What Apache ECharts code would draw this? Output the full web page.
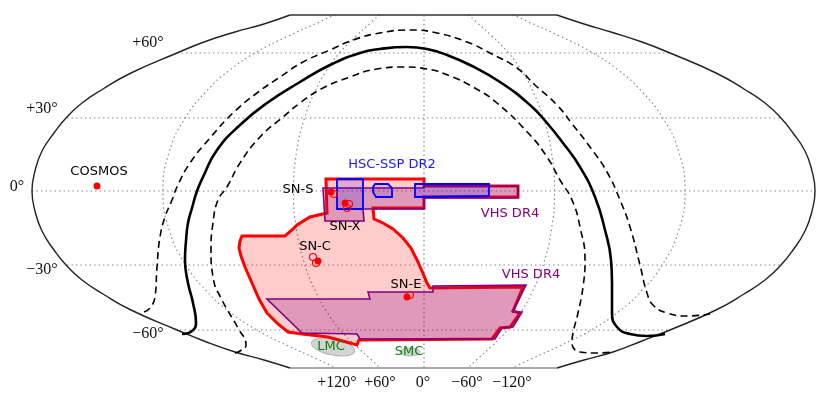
<!DOCTYPE html>
<html>
<head>
<meta charset="utf-8">
<script src="https://cdn.jsdelivr.net/npm/echarts@6/dist/echarts.min.js"></script>
<style>html,body{margin:0;padding:0;background:#fff}#chart{width:831px;height:400px}</style>
</head>
<body>
<div id="chart"></div>
<script>
// all curves are in map units, origin at (lon 0, lat 0)
var edgeLeft = [[-134,176],[-160,167],[-189,159],[-220,149],[-247,138],[-293,118],[-321,102],[-342,88],[-358,73],[-370,58],[-382,40],[-389,20],[-392,0],[-389,-20],[-382,-40],[-370,-59],[-358,-74],[-342,-89],[-321,-103],[-293,-119],[-247,-139],[-220,-150],[-189,-161],[-160,-169],[-134,-177]];
var edgeRight = [[133,176],[160,167],[187,159],[218,149],[246,138],[292,118],[320,102],[341,88],[357,73],[369,58],[381,40],[388,20],[391,0],[388,-20],[381,-40],[369,-59],[357,-74],[341,-89],[320,-103],[292,-119],[246,-139],[218,-150],[189,-161],[160,-169],[133,-177]];
var edgeTop = [[-134,176],[133,176]];
var edgeBottom = [[-134,-177],[133,-177]];

var parallels = [
  [[-392,0],[391,0]],
  [[-357,73],[356,73]],
  [[-357,-74],[356,-74]],
  [[-247,138],[246,138]],
  [[-244,-139],[246,-139]]
];
var meridianLons = [-120,-60,60,120];
var meridianShape = [[1,0],[0.975,40],[0.915,73],[0.833,100],[0.749,120],[0.644,138.5],[0.52,155],[0.41,168],[0.34,176.5]];
var centralMeridian = [[0,176],[0,-177]];

var galacticPlane = [[-242,-143],[-232,-140],[-228,-132],[-231,-112],[-236,-92],[-239,-69],[-238,-50],[-236,-32],[-232,-17],[-227,0],[-221,14],[-207,41],[-184,66],[-157,88],[-124,109],[-94,126],[-64,138],[-44,142],[-17,144],[3,142],[23,136],[46,126],[76,109],[106,86],[123,68],[139,48],[156,24],[171,-6],[181,-39],[187,-69],[188,-92],[188,-122],[193,-136],[206,-143],[223,-145],[241,-143]];
var planeUpper = [[-280,-121],[-274,-117],[-269,-106],[-267,-76],[-264,-46],[-259,-26],[-252,-9],[-247,4],[-234,28],[-214,53],[-191,78],[-167,98],[-144,114],[-121,129],[-94,141],[-71,151],[-44,158],[-14,161],[13,158],[43,149],[66,138],[93,123],[111,106],[133,86],[149,66],[166,44],[183,19],[196,-9],[206,-36],[216,-74],[223,-102],[229,-114],[243,-122],[263,-125],[286,-123]];
var planeLower = [[-189,-162],[-184,-160],[-178,-154],[-186,-137],[-202,-109],[-211,-86],[-213,-59],[-211,-32],[-206,-9],[-197,4],[-184,28],[-164,54],[-141,74],[-124,88],[-101,103],[-74,114],[-47,122],[-21,124],[3,122],[26,115],[49,104],[73,88],[106,56],[123,34],[136,11],[148,-9],[156,-36],[161,-69],[159,-96],[154,-122],[149,-142],[148,-152],[156,-161],[173,-162],[189,-161]];

var mainFootprint = [[-98,12],[0,12],[0,5],[94,5],[94,-6],[0,-6],[0,-17],[-51,-17],[-50,-28],[-41,-32],[-31,-38],[-21,-47],[-13,-57],[-7,-69],[-2,-80],[3,-92],[6,-97],[99,-96],[89,-120],[96,-122],[86,-136],[76,-137],[68,-148],[-65,-149],[-67,-154],[-96,-146],[-122,-143],[-136,-141],[-146,-133],[-157,-122],[-165,-108],[-172,-92],[-179,-76],[-183,-65],[-185,-57],[-184,-50],[-182,-45],[-139,-45],[-132,-39],[-127,-34],[-114,-26],[-97,-22]];
var vhsSouth = [[-157,-108],[-54,-108],[-56,-101],[9,-101],[9,-95],[102,-94],[89,-121],[98,-121],[89,-136],[78,-137],[71,-148],[-64,-148],[-67,-143],[-122,-142]];
var vhsEquator = [[-101,3],[0,3],[0,5],[94,5],[94,-7],[0,-7],[0,-18],[-61,-18],[-60,-30],[-99,-30]];
var hscA = [[-87,12],[-61,12],[-61,-18],[-87,-18]];
var hscB = [[-49,7],[-36,7],[-32,3],[-32,-6],[-48,-6],[-51,-1],[-51,4]];
var hscC = [[-9,7],[65,7],[65,-5],[-9,-6]];

var fieldsFilled = [[-327,5],[-93,-1],[-79,-12],[-106,-70],[-17,-106]];
var fieldsOpen = [[-90,-3],[-75,-13],[-77,-17],[-111,-66],[-108,-72],[-14,-104]];

var lmc = [-91,-156,22,8,-0.2];
var smc = [-14,-161,10,4,0];

var latLabels = ['+60°','+30°','0°','−30°','−60°'];
var latLabelAt = [[-276,148],[-382,82],[-407,4],[-382,-79],[-276,-143]];
var lonLabels = ['+120°','+60°','0°','−60°','−120°'];
var lonLabelAt = [[-87,-192],[-44,-192],[-1,-192],[43,-192],[88,-192]];
var fieldNames = ['COSMOS','SN-S','SN-X','SN-C','SN-E'];
var fieldNameAt = [[-325,19],[-126,1],[-79,-36],[-109,-56],[-18,-94]];

function lineOf(pts, color, width, dash, smooth) {
  return {
    type: 'line', data: pts, showSymbol: false, silent: true, smooth: smooth || false,
    clip: false, z: 3,
    lineStyle: { color: color, width: width, type: dash || 'solid', cap: 'butt' }
  };
}

function polyOf(pts, fill, stroke, width, z) {
  return {
    type: 'custom', data: pts, silent: true, z: z, clip: false,
    renderItem: function (params, api) {
      if (params.dataIndex !== 0) return null;
      return {
        type: 'polygon',
        shape: { points: pts.map(function (p) { return api.coord(p); }) },
        style: { fill: fill, stroke: stroke, lineWidth: width, lineJoin: 'miter' }
      };
    }
  };
}

function ellipseOf(e, z) {
  return {
    type: 'custom', data: [e], silent: true, z: z, clip: false,
    renderItem: function (params, api) {
      var c = api.coord([e[0], e[1]]);
      var s = api.size([e[2], e[3]]);
      return {
        type: 'ellipse', x: c[0], y: c[1], rotation: e[4],
        shape: { cx: 0, cy: 0, rx: s[0], ry: s[1] },
        style: { fill: 'rgba(128,128,128,0.35)', stroke: '#b5b5b5', lineWidth: 1 }
      };
    }
  };
}

function textOf(names, at, color, font, size) {
  return {
    type: 'scatter', symbolSize: 1, silent: true, z: 8, clip: false,
    itemStyle: { color: 'rgba(0,0,0,0)', opacity: 1 },
    data: names.map(function (n, i) { return { name: n, value: at[i] }; }),
    label: {
      show: true, position: 'inside', color: color, opacity: 1, fontFamily: font, fontSize: size,
      formatter: '{b}'
    }
  };
}

var sans = 'DejaVu Sans', serif = 'Liberation Serif';
var gridDash = [1.5, 3];
var series = [];

parallels.forEach(function (p) { series.push(lineOf(p, '#888', 1.2, gridDash)); });
series.push(lineOf(centralMeridian, '#888', 1.2, gridDash));
meridianLons.forEach(function (lon) {
  var m = meridianShape.map(function (s) { return [lon / 60 * 130.5 * s[0], s[1]]; });
  var full = m.slice().reverse().concat(m.slice(1).map(function (p) { return [p[0], -p[1]]; }));
  series.push(lineOf(full, '#888', 1.2, gridDash, 0.5));
});

series.push(lineOf(edgeLeft, '#222', 1.4, 'solid', 0.5));
series.push(lineOf(edgeRight, '#222', 1.4, 'solid', 0.5));
series.push(lineOf(edgeTop, '#333', 1.4));
series.push(lineOf(edgeBottom, '#8c8c8c', 1.4));

series.push(lineOf(galacticPlane, '#000', 2.6, 'solid', 0.5));
series.push(lineOf(planeUpper, '#000', 1.6, [7, 4.5], 0.5));
series.push(lineOf(planeLower, '#000', 1.6, [7, 4.5], 0.5));

series.push(ellipseOf(lmc, 4));
series.push(ellipseOf(smc, 4));

series.push(polyOf(mainFootprint, 'rgba(255,0,0,0.2)', '#f00', 3, 5));
series.push(polyOf(vhsSouth, 'rgba(128,0,128,0.25)', '#800080', 1.6, 6));
series.push(polyOf(vhsEquator, 'rgba(128,0,128,0.25)', '#800080', 1.6, 6));
series.push(polyOf(hscA, 'rgba(0,0,255,0.15)', '#00f', 1.8, 6));
series.push(polyOf(hscB, 'rgba(0,0,255,0.1)', '#00f', 1.8, 6));
series.push(polyOf(hscC, 'rgba(0,0,255,0.15)', '#00f', 1.8, 6));

series.push({
  type: 'scatter', data: fieldsOpen, symbolSize: 7, silent: true, z: 7, clip: false,
  itemStyle: { color: 'rgba(255,255,255,0)', borderColor: '#f00', borderWidth: 1.2, opacity: 1 }
});
series.push({
  type: 'scatter', data: fieldsFilled, symbolSize: 7, silent: true, z: 7, clip: false,
  itemStyle: { color: '#f00', opacity: 1 }
});

series.push(textOf(latLabels, latLabelAt, '#111', serif, 16));
series.push(textOf(lonLabels, lonLabelAt, '#111', serif, 16));
series.push(textOf(fieldNames, fieldNameAt, '#000', sans, 13));
series.push(textOf(['HSC-SSP DR2'], [[-32, 26]], '#1a1aee', sans, 13));
series.push(textOf(['VHS DR4', 'VHS DR4'], [[86, -23], [107, -84]], '#800080', sans, 13));
series.push(textOf(['LMC', 'SMC'], [[-93, -156], [-15, -161]], '#108010', sans, 13));

var myChart = echarts.init(document.getElementById('chart'));
myChart.setOption({
  animation: false,
  backgroundColor: '#fff',
  grid: { left: 0, right: 0, top: 0, bottom: 0 },
  xAxis: { type: 'value', min: -424, max: 407, show: false },
  yAxis: { type: 'value', min: -209, max: 191, show: false },
  series: series
});
</script>
</body>
</html>
